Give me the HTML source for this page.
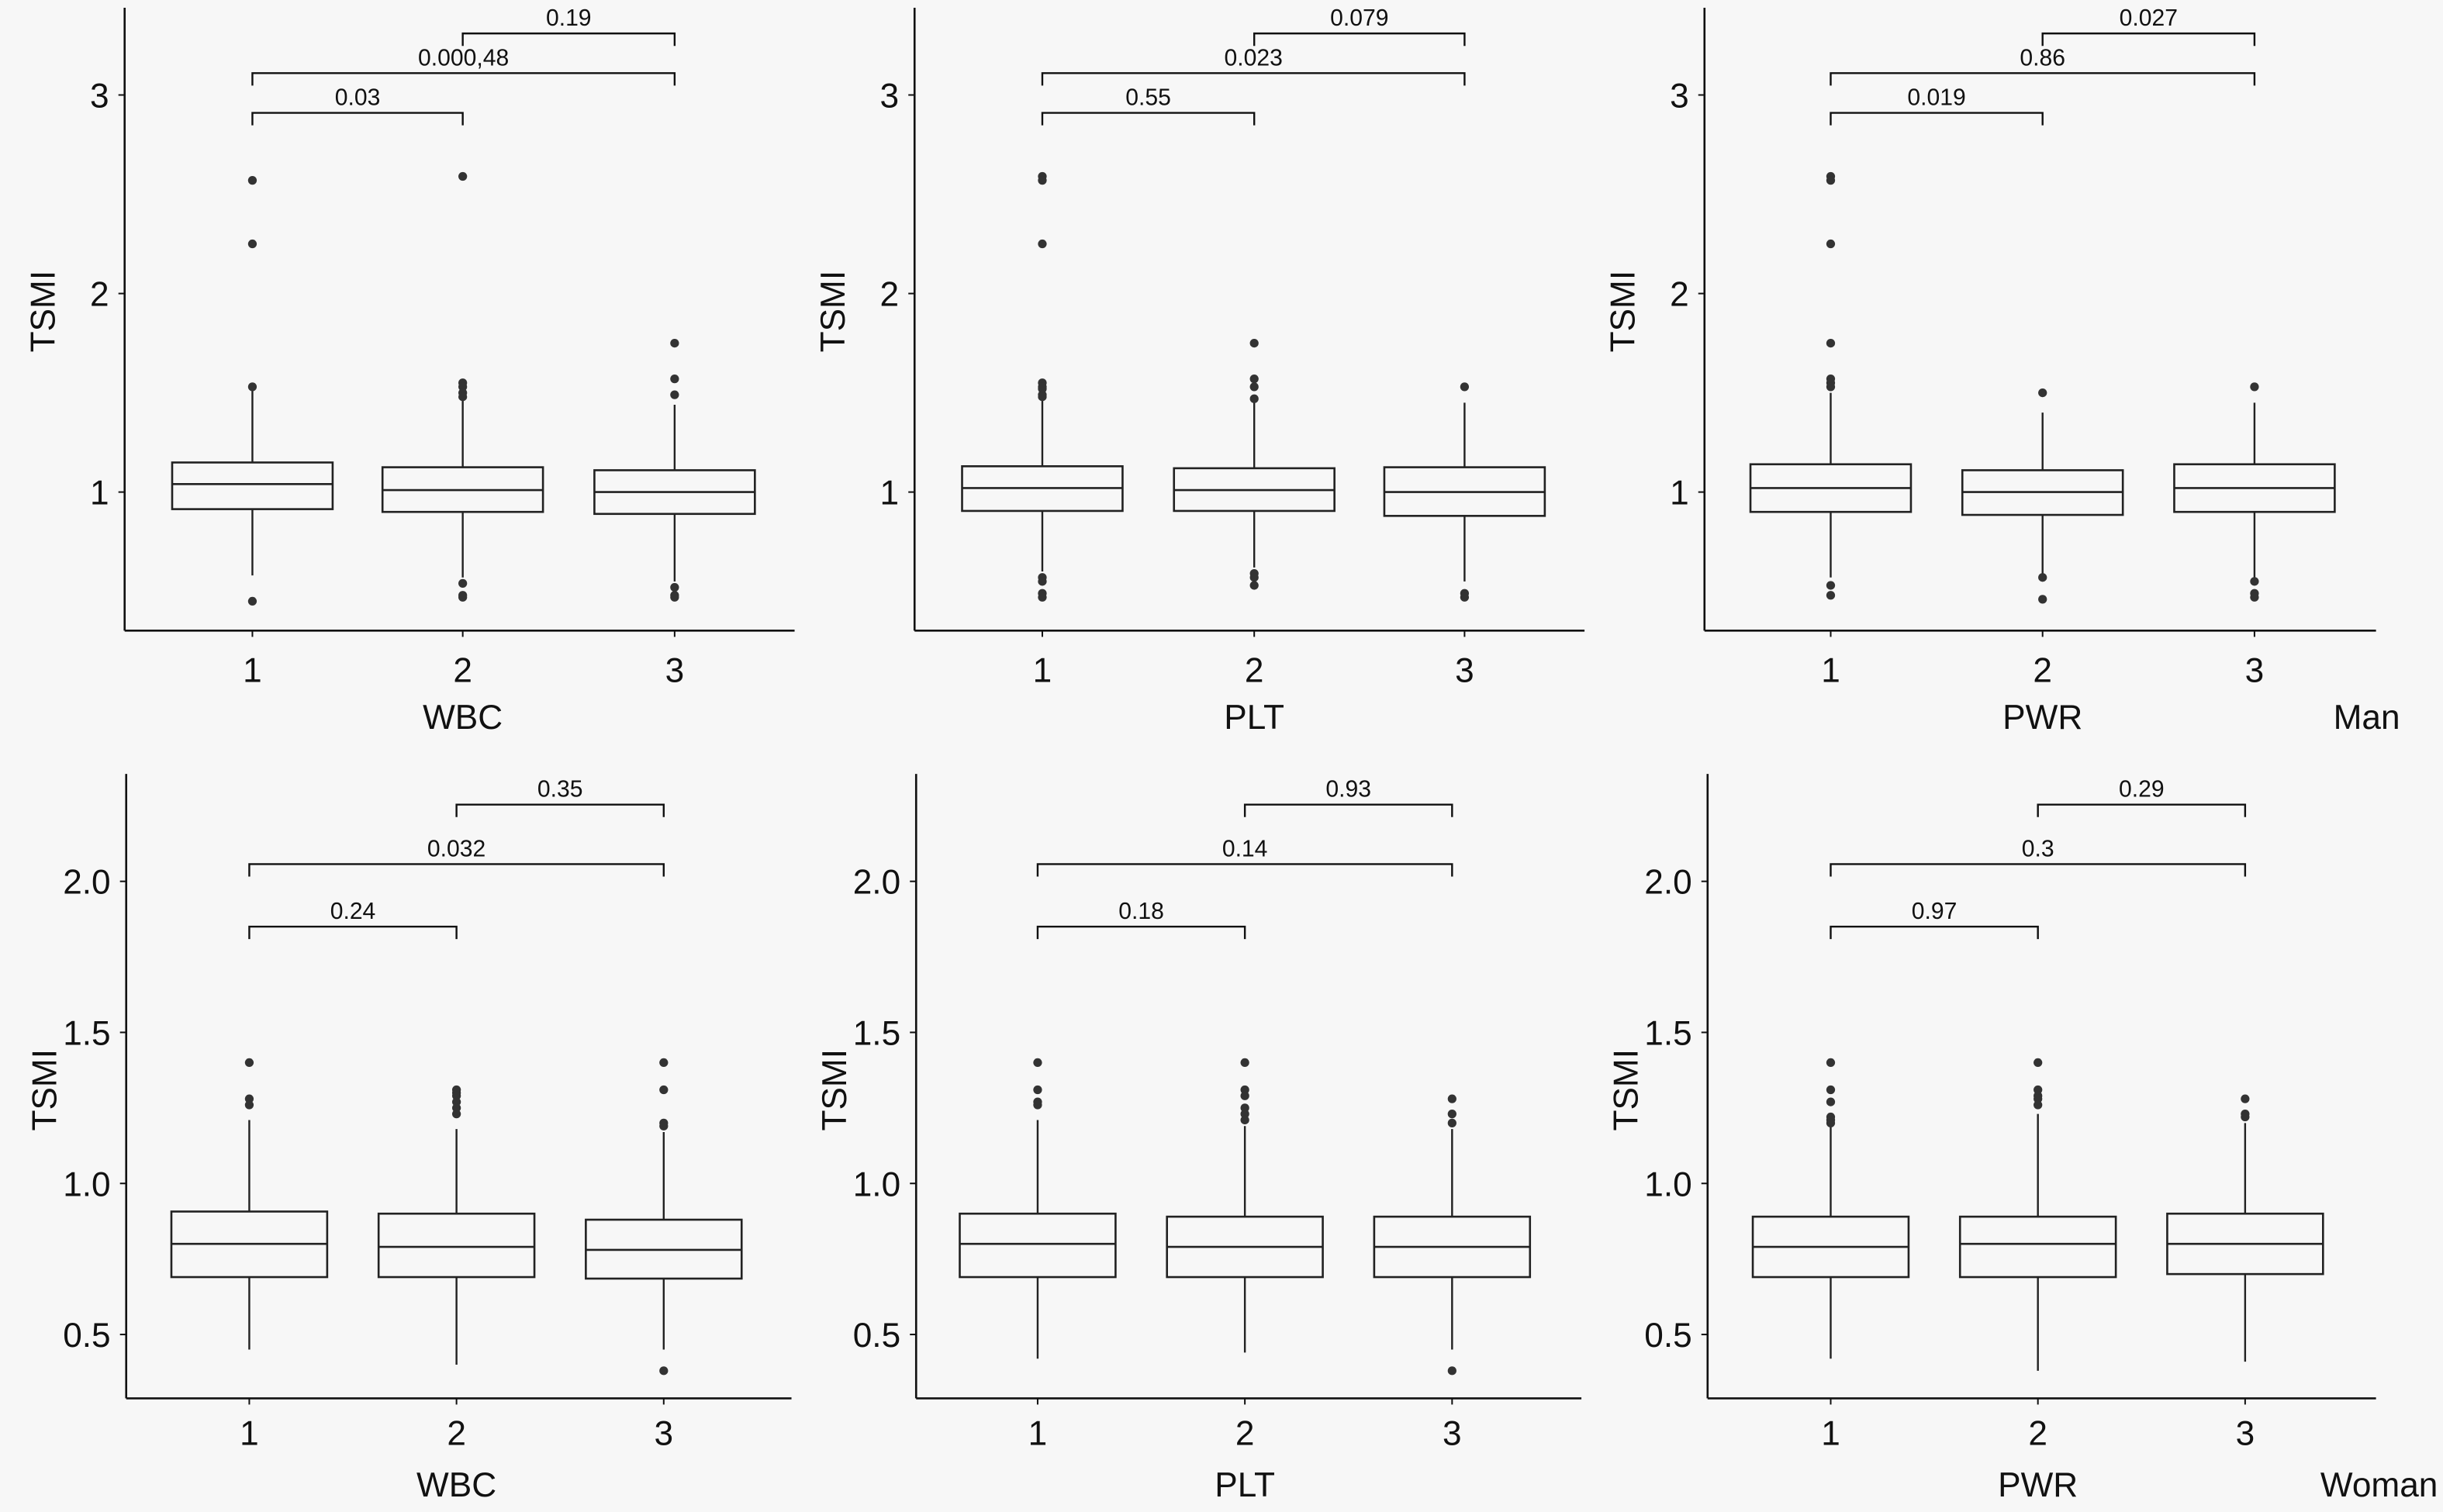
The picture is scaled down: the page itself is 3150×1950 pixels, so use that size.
<!DOCTYPE html>
<html><head><meta charset="utf-8"><style>
html,body{margin:0;padding:0;background:#f7f7f7}
svg{display:block}
text{font-family:"Liberation Sans","DejaVu Sans",sans-serif;fill:#111}
</style></head><body>
<svg id="chart" width="3150" height="1950" viewBox="0 0 1568 971" preserveAspectRatio="none" xmlns="http://www.w3.org/2000/svg">
<rect width="1568" height="971" fill="#f7f7f7"/>
<text x="1519" y="468" font-size="22" text-anchor="middle">Man</text>
<text x="1527" y="961" font-size="22" text-anchor="middle">Woman</text>
</svg>
<script>
const categories = ["1","2","3"];
const panelTitles = ["WBC","PLT","PWR"];
// [q3, q1, median, whiskerHigh, whiskerLow]
const manBoxes = [
 [[1.149,0.914,1.04,1.52,0.58],[1.125,0.90,1.01,1.47,0.57],[1.11,0.89,1.0,1.44,0.55]],
 [[1.13,0.905,1.02,1.47,0.60],[1.12,0.905,1.01,1.45,0.62],[1.125,0.88,1.0,1.45,0.55]],
 [[1.14,0.90,1.02,1.50,0.57],[1.11,0.885,1.0,1.40,0.57],[1.14,0.90,1.02,1.45,0.57]]
];
const manOutliers = [
 [[2.57,2.25,1.53,0.45],[2.59,1.55,1.53,1.5,1.48,0.54,0.48,0.47],[1.75,1.57,1.49,0.52,0.48,0.47]],
 [[2.59,2.57,2.25,1.55,1.53,1.52,1.49,1.48,0.57,0.55,0.49,0.47],[1.75,1.57,1.53,1.47,0.59,0.57,0.53],[1.53,0.49,0.47]],
 [[2.59,2.57,2.25,1.75,1.57,1.55,1.53,0.53,0.48],[1.5,0.57,0.46],[1.53,0.55,0.49,0.47]]
];
const womanBoxes = [
 [[0.907,0.69,0.80,1.21,0.45],[0.90,0.69,0.79,1.18,0.40],[0.88,0.685,0.78,1.17,0.45]],
 [[0.90,0.69,0.80,1.21,0.42],[0.89,0.69,0.79,1.19,0.44],[0.89,0.69,0.79,1.18,0.45]],
 [[0.89,0.69,0.79,1.19,0.42],[0.89,0.69,0.80,1.23,0.38],[0.90,0.70,0.80,1.20,0.41]]
];
const womanOutliers = [
 [[1.40,1.28,1.26],[1.31,1.30,1.29,1.27,1.25,1.23],[1.40,1.31,1.20,1.19,0.38]],
 [[1.40,1.31,1.27,1.26],[1.40,1.31,1.29,1.25,1.23,1.21],[1.28,1.23,1.20,0.38]],
 [[1.40,1.31,1.27,1.22,1.21,1.20],[1.40,1.31,1.29,1.28,1.26],[1.28,1.23,1.22]]
];
// comparisons: [from, to, level]
const compPairs = [[1,2],[0,2],[0,1]];
const manPLabels = [["0.19","0.000,48","0.03"],["0.079","0.023","0.55"],["0.027","0.86","0.019"]];
const womanPLabels = [["0.35","0.032","0.24"],["0.93","0.14","0.18"],["0.29","0.3","0.97"]];
const manBracketY = [3.31,3.11,2.91];
const womanBracketY = [2.254,2.057,1.85];
const manTicks = [1,2,3];
const manTickLabels = ["1","2","3"];
const womanTicks = [0.5,1.0,1.5,2.0];
const womanTickLabels = ["0.5","1.0","1.5","2.0"];

const svg = document.getElementById('chart');
const NS = "http://www.w3.org/2000/svg";
function mk(tag, attrs, parent){const e=document.createElementNS(NS,tag);for(const k in attrs)e.setAttribute(k,attrs[k]);(parent||svg).appendChild(e);return e;}

const rows = [
 {boxes:manBoxes,out:manOutliers,pl:manPLabels,by:manBracketY,ticks:manTicks,tl:manTickLabels,
  axLeft:[80,587,1094],axRight:[510,1017,1525],top:5,bottom:405,ref:1,refY:316,unit:127.5,
  cats:[[162,297,433],[669,805,940],[1175,1311,1447]],bw:103,tickY:438,xlY:468,ylY:200,name:'man'},
 {boxes:womanBoxes,out:womanOutliers,pl:womanPLabels,by:womanBracketY,ticks:womanTicks,tl:womanTickLabels,
  axLeft:[81,588,1096],axRight:[508,1015,1525],top:497,bottom:898,ref:1,refY:760,unit:194,
  cats:[[160,293,426],[666,799,932],[1175,1308,1441]],bw:100,tickY:928,xlY:961,ylY:700,name:'woman'}
];

rows.forEach(r=>{
 const y = v => r.refY-(v-r.ref)*r.unit;
 for(let p=0;p<3;p++){
  const g=mk('g',{});
  
  
  const L=r.axLeft[p];
  const xa=mk('line',{x1:L,y1:r.bottom,x2:r.axRight[p],y2:r.bottom,stroke:'#111','stroke-width':1.3},g);
  
  
  const ya=mk('line',{x1:L,y1:r.top,x2:L,y2:r.bottom,stroke:'#111','stroke-width':1.3},g);
  
  
  r.ticks.forEach((t,i)=>{
   const ty=y(t);
   mk('line',{x1:L-4,y1:ty,x2:L,y2:ty,stroke:'#111','stroke-width':1},g);
   const tx=mk('text',{x:L-10,y:ty+8,'font-size':22,'text-anchor':'end'},g);
   tx.textContent=r.tl[i];
   
   
  });
  const yl=mk('text',{x:0,y:0,'font-size':22,'text-anchor':'middle',transform:`translate(${L-45},${r.ylY}) rotate(-90)`},g);
  yl.textContent='TSMI';
  
  
  const xl=mk('text',{x:r.cats[p][1],y:r.xlY,'font-size':22,'text-anchor':'middle'},g);
  xl.textContent=panelTitles[p];
  
  
  categories.forEach((c,i)=>{
   const cx=r.cats[p][i];
   mk('line',{x1:cx,y1:r.bottom,x2:cx,y2:r.bottom+4,stroke:'#111','stroke-width':1},g);
   const ct=mk('text',{x:cx,y:r.tickY,'font-size':22,'text-anchor':'middle'},g);
   ct.textContent=c;
   
   
   const b=r.boxes[p][i];
   const bg=mk('g',{},g);
   
   
   mk('line',{x1:cx,y1:y(b[3]),x2:cx,y2:y(b[0]),stroke:'#222','stroke-width':1.2},bg);
   mk('line',{x1:cx,y1:y(b[1]),x2:cx,y2:y(b[4]),stroke:'#222','stroke-width':1.2},bg);
   mk('rect',{x:cx-r.bw/2,y:y(b[0]),width:r.bw,height:y(b[1])-y(b[0]),fill:'none',stroke:'#222','stroke-width':1.3},bg);
   mk('line',{x1:cx-r.bw/2,y1:y(b[2]),x2:cx+r.bw/2,y2:y(b[2]),stroke:'#222','stroke-width':1.3},bg);
   r.out[p][i].forEach(o=>{
    const d=mk('circle',{cx:cx,cy:y(o),r:2.8,fill:'#333'},bg);
    
    
   });
  });
  compPairs.forEach((pr,k)=>{
   const x1=r.cats[p][pr[0]], x2=r.cats[p][pr[1]], by=y(r.by[k]);
   const cg=mk('g',{},g);
   
   
   mk('path',{d:`M${x1},${by+8}V${by}H${x2}V${by+8}`,fill:'none',stroke:'#111','stroke-width':1.2},cg);
   const t=mk('text',{x:(x1+x2)/2,y:by-5,'font-size':15,'text-anchor':'middle'},cg);
   t.textContent=r.pl[p][k];
  });
 }
});
</script>
</body></html>
